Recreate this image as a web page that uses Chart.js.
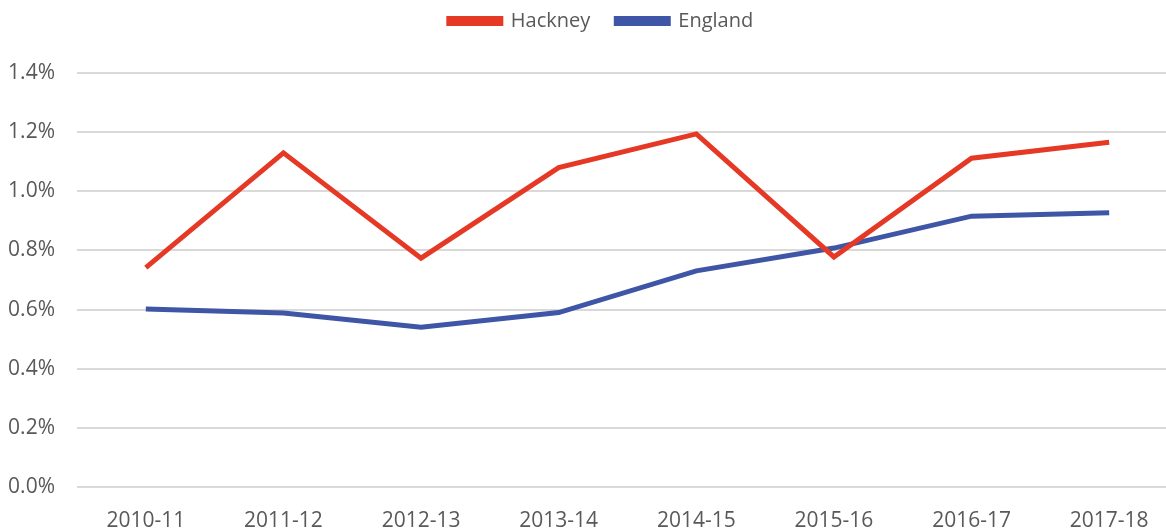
<!DOCTYPE html>
<html>
<head>
<meta charset="utf-8">
<script src="https://cdn.jsdelivr.net/npm/chart.js@4/dist/chart.umd.min.js"></script>
<style>
    html, body { margin: 0; padding: 0; background: #fff; overflow: hidden; }
    .chart-wrapper { position: relative; width: 1178px; height: 530px; }
</style>
</head>
<body>
<div class="chart-wrapper"><canvas id="chart-hackney"></canvas></div>

<script>
    const years = ['2010-11', '2011-12', '2012-13', '2013-14', '2014-15', '2015-16', '2016-17', '2017-18'];
    const hackney = [0.742, 1.130, 0.774, 1.080, 1.194, 0.778, 1.112, 1.166];
    const england = [0.602, 0.588, 0.540, 0.590, 0.731, 0.808, 0.916, 0.927];
    const yTicks = [0, 0.2, 0.4, 0.6, 0.8, 1.0, 1.2, 1.4];

    const textColor = '#595959';
    const fontFamily = "'Open Sans', 'Liberation Sans', sans-serif";

    // extra room under the legend and a small shift right, like the original
    const legendGap = {
        id: 'legendGap',
        beforeInit: function (chart) {
            const fit = chart.legend.fit;
            chart.legend.fit = function () {
                fit.bind(chart.legend)();
                this.height += 32;
            };
        },
        afterLayout: function (chart) {
            chart.legend.left += 12;
            chart.legend.right += 12;
        }
    };

    const data = {
        labels: years,
        datasets: [{
            label: 'Hackney',
            data: hackney,
            borderColor: 'rgb(229,57,38)',
            backgroundColor: 'rgb(229,57,38)',
            borderWidth: 5,
            pointRadius: 0,
            tension: 0
        }, {
            label: 'England',
            data: england,
            borderColor: 'rgb(63,86,166)',
            backgroundColor: 'rgb(63,86,166)',
            borderWidth: 5,
            pointRadius: 0,
            tension: 0
        }]
    };

    const config = {
        type: 'line',
        data: data,
        options: {
            responsive: true,
            maintainAspectRatio: false,
            animation: false,
            layout: {
                padding: { left: 0, right: 0, top: -15, bottom: 0 }
            },
            plugins: {
                legend: {
                    display: true,
                    position: 'top',
                    labels: {
                        color: textColor,
                        font: { family: fontFamily, size: 20 },
                        boxWidth: 52,
                        boxHeight: 5,
                        padding: 26
                    }
                },
                tooltip: { enabled: false }
            },
            scales: {
                x: {
                    offset: true,
                    grid: { display: false },
                    border: { display: false },
                    afterFit: function (scale) { scale.height = 43; },
                    ticks: {
                        color: textColor,
                        font: { family: fontFamily, size: 21 },
                        maxRotation: 0,
                        padding: 13
                    }
                },
                y: {
                    min: 0,
                    max: 1.4,
                    afterBuildTicks: function (axis) {
                        axis.ticks = yTicks.map(function (v) { return { value: v }; });
                    },
                    afterFit: function (scale) { scale.width = 77; },
                    grid: { color: '#d9d9d9', lineWidth: 2, drawTicks: false },
                    border: { display: false },
                    ticks: {
                        color: textColor,
                        font: { family: fontFamily, size: 21 },
                        padding: 22,
                        callback: function (v) { return v.toFixed(1) + '%'; }
                    }
                }
            }
        },
        plugins: [legendGap]
    };

    var chartHackney = new Chart(document.getElementById('chart-hackney'), config);
</script>
</body>
</html>
